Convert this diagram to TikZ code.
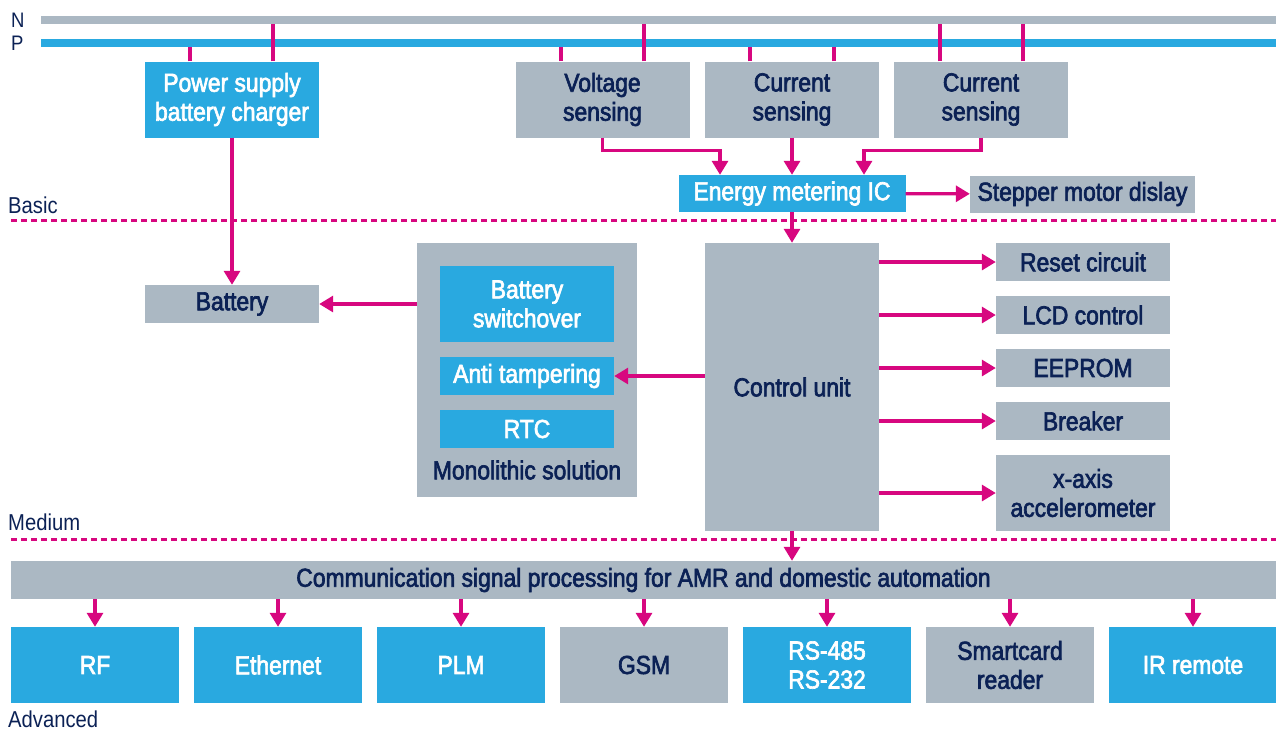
\documentclass[tikz,border=0pt]{standalone}
\usepackage{fontspec}
\setmainfont{Liberation Sans}[FakeStretch=0.88]
\newfontfamily\boxfont{Liberation Sans}[FakeStretch=0.88,FakeBold=2.5]
\usetikzlibrary{arrows.meta}
\definecolor{stgray}{HTML}{ABB8C3}
\definecolor{stblue}{HTML}{29A9E0}
\definecolor{stpink}{HTML}{D7077F}
\definecolor{stnavy}{HTML}{0B2155}
\begin{document}
\begin{tikzpicture}[x=1pt,y=-1pt,
every node/.style={font=\boxfont\fontsize{26}{29}\selectfont, inner sep=0pt, align=center},
gbox/.style={fill=stgray, text=stnavy, minimum width=174pt, minimum height=38pt},
bbox/.style={fill=stblue, text=white, minimum width=174pt, minimum height=38pt},
tall/.style={minimum height=76pt},
bus/.style={minimum width=1235pt, minimum height=8pt},
level/.style={font=\fontsize{23}{26}\selectfont, text=stnavy, anchor=base west},
wire/.style={draw=stpink, line width=3.2pt},
sep/.style={draw=stpink, line width=3pt, dash pattern=on 6pt off 4pt},
>={Triangle[length=14pt,width=16pt]}
]
\useasboundingbox (0,0) rectangle (1276,732);
% Lineas
\node[bus, fill=stgray] (N) at (658.5,20) {};
\node[bus, fill=stblue] (P) at (658.5,43) {};
\node[level, font=\fontsize{21}{24}\selectfont] (Nlab) at (11,27) {N};
\node[level, font=\fontsize{21}{24}\selectfont] (Plab) at (11,50) {P};
% Niveles
\node[level] (basic) at (8,213) {Basic};
\node[level] (medium) at (8,530) {Medium};
\node[level] (advanced) at (8,727) {Advanced};
\draw[sep] (11,220) -- (1276,220);
\draw[sep] (11,539) -- (1276,539);
% Sensores
\node[bbox, tall] (ps) at (232,99.5) {Power supply\\battery charger};
\node[gbox, tall] (volt) at (602.5,99.5) {Voltage\\sensing};
\node[gbox, tall] (cur1) at (792,99.5) {Current\\sensing};
\node[gbox, tall] (cur2) at (981,99.5) {Current\\sensing};
% Medidor
\node[bbox, minimum width=227pt, minimum height=37pt] (ic) at (792,193.5) {Energy metering IC};
\node[gbox, minimum width=225pt, minimum height=37pt] (stepper) at (1082.5,194) {Stepper motor dislay};
% Bateria y solucion monolitica
\node[gbox] (batt) at (232,304) {Battery};
\node[gbox, minimum width=220pt, minimum height=254pt] (mono) at (527,370) {};
\node[bbox, tall] (switch) at (527,304) {Battery\\switchover};
\node[bbox] (anti) at (527,376) {Anti tampering};
\node[bbox] (rtc) at (527,429) {RTC};
\node[text=stnavy] (monotext) at (527,470) {Monolithic solution};
% Unidad de control
\node[gbox, minimum height=288pt] (cu) at (792,387) {Control unit};
\node[gbox] (reset) at (1083,262) {Reset circuit};
\node[gbox] (lcd) at (1083,315) {LCD control};
\node[gbox] (eeprom) at (1083,368) {EEPROM};
\node[gbox] (breaker) at (1083,421) {Breaker};
\node[gbox, tall] (accel) at (1083,493) {x-axis\\accelerometer};
% Comunicacion
\node[gbox, minimum width=1265pt] (comm) at (643.5,580) {Communication signal processing for AMR and domestic automation};
\node[bbox, tall, minimum width=168pt] (rf) at (95,665) {RF};
\node[bbox, tall, minimum width=168pt] (eth) at (278,665) {Ethernet};
\node[bbox, tall, minimum width=168pt] (plm) at (461,665) {PLM};
\node[gbox, tall, minimum width=168pt] (gsm) at (644,665) {GSM};
\node[bbox, tall, minimum width=168pt] (rs) at (827,665) {RS-485\\RS-232};
\node[gbox, tall, minimum width=168pt] (smart) at (1010,665) {Smartcard\\reader};
\node[bbox, tall, minimum width=168pt] (ir) at (1193,665) {IR remote};
% Tomas de linea
\draw[wire] ([xshift=-42pt]ps.north) -- ([xshift=-42pt]ps.north |- P.south);
\draw[wire] ([xshift=41pt]ps.north) -- ([xshift=41pt]ps.north |- N.south);
\draw[wire] ([xshift=-41.5pt]volt.north) -- ([xshift=-41.5pt]volt.north |- P.south);
\draw[wire] ([xshift=41.5pt]volt.north) -- ([xshift=41.5pt]volt.north |- N.south);
\draw[wire] ([xshift=-42pt]cur1.north) -- ([xshift=-42pt]cur1.north |- P.south);
\draw[wire] ([xshift=42pt]cur1.north) -- ([xshift=42pt]cur1.north |- P.south);
\draw[wire] ([xshift=-41pt]cur2.north) -- ([xshift=-41pt]cur2.north |- N.south);
\draw[wire] ([xshift=42pt]cur2.north) -- ([xshift=42pt]cur2.north |- N.south);
% Aristas
\draw[wire, ->] (volt.south) -- ++(0,12.5) -| ([xshift=-72pt]ic.north);
\draw[wire, ->] (cur1) -- (ic);
\draw[wire, ->] (cur2.south) -- ++(0,12.5) -| ([xshift=72pt]ic.north);
\draw[wire, ->] (ic) -- (stepper);
\draw[wire, ->] (ic) -- (cu);
\draw[wire, ->] (ps) -- (batt);
\draw[wire, ->] (mono.west |- batt.east) -- (batt.east);
\draw[wire, ->] (cu.west |- anti.east) -- (anti.east);
\draw[wire, ->] (cu.east |- reset.west) -- (reset.west);
\draw[wire, ->] (cu.east |- lcd.west) -- (lcd.west);
\draw[wire, ->] (cu.east |- eeprom.west) -- (eeprom.west);
\draw[wire, ->] (cu.east |- breaker.west) -- (breaker.west);
\draw[wire, ->] (cu.east |- accel.west) -- (accel.west);
\draw[wire, ->] (cu.south) -- (cu.south |- comm.north);
\draw[wire, ->] (comm.south -| rf) -- (rf);
\draw[wire, ->] (comm.south -| eth) -- (eth);
\draw[wire, ->] (comm.south -| plm) -- (plm);
\draw[wire, ->] (comm.south -| gsm) -- (gsm);
\draw[wire, ->] (comm.south -| rs) -- (rs);
\draw[wire, ->] (comm.south -| smart) -- (smart);
\draw[wire, ->] (comm.south -| ir) -- (ir);
\end{tikzpicture}
\end{document}
